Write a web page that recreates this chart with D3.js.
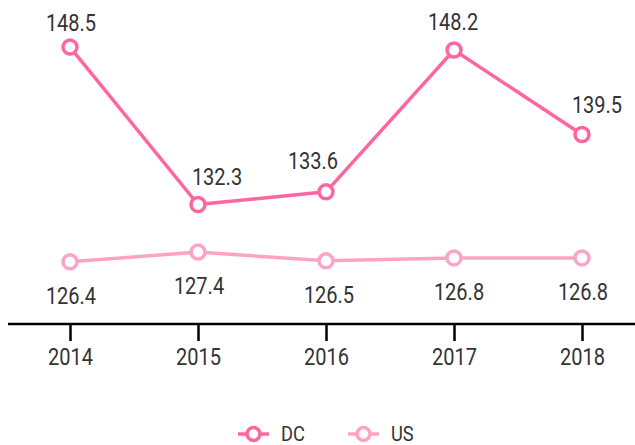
<!DOCTYPE html>
<html lang="en">
<head>
    <meta charset="UTF-8">
    <script src="https://cdnjs.cloudflare.com/ajax/libs/d3/7.8.5/d3.min.js"></script>
    <style>
        body { margin: 0; background: #fff; }
        text { font-family: Roboto, sans-serif; fill: #333; }
    </style>
</head>
<body>
<svg id="chart" width="635" height="445"></svg>
<script>
    const years = ['2014', '2015', '2016', '2017', '2018'];
    const dcValues = [148.5, 132.3, 133.6, 148.2, 139.5];
    const usValues = [126.4, 127.4, 126.5, 126.8, 126.8];
    const seriesNames = ['DC', 'US'];
    const colors = ['#ff66a1', '#ffa3c6'];

    // label nudges (layout only) so the DC labels clear the line
    const dcLabelShift = [[1, -16], [19, -19], [-13, -23], [-1, -20], [15, -22]];
    const usLabelShift = [[1, 42], [1, 42], [3, 42], [5, 42], [1, 42]];

    // narrow look for the condensed face of the original
    const squeeze = 0.87;

    const svg = d3.select('#chart');

    const xScale = d3.scalePoint().domain(years).range([70, 582]);
    const yScale = d3.scaleLinear().domain([120, 150]).range([324, 32.5]);

    // x axis
    const xAxis = d3.axisBottom(xScale).tickSize(17).tickSizeOuter(0).tickFormat('');
    const axisG = svg.append('g')
        .attr('transform', 'translate(0,324)')
        .call(xAxis);
    axisG.select('.domain').remove();
    axisG.append('line')
        .attr('x1', 8).attr('x2', 635)
        .attr('stroke', '#000').attr('stroke-width', 2.5);
    axisG.selectAll('.tick line').attr('stroke', '#000').attr('stroke-width', 2.5);
    axisG.selectAll('.tick')
        .append('text')
        .attr('transform', `translate(0,41) scale(${squeeze},1)`)
        .attr('text-anchor', 'middle')
        .style('font-family', 'Roboto, sans-serif')
        .style('font-size', '23px')
        .style('fill', '#333')
        .text(d => d);

    const series = [
        { name: 'DC', values: dcValues, color: colors[0], shift: dcLabelShift },
        { name: 'US', values: usValues, color: colors[1], shift: usLabelShift }
    ];

    const line = d3.line()
        .x((d, i) => xScale(years[i]))
        .y(d => yScale(d));

    series.forEach(s => {
        const g = svg.append('g');
        g.append('path')
            .datum(s.values)
            .attr('d', line)
            .attr('fill', 'none')
            .attr('stroke', s.color)
            .attr('stroke-width', 3.5);
        g.selectAll('circle')
            .data(s.values).enter()
            .append('circle')
            .attr('cx', (d, i) => xScale(years[i]))
            .attr('cy', d => yScale(d))
            .attr('r', 7)
            .attr('fill', '#fff')
            .attr('stroke', s.color)
            .attr('stroke-width', 3.5);
        g.selectAll('text')
            .data(s.values).enter()
            .append('text')
            .attr('transform', (d, i) =>
                `translate(${xScale(years[i]) + s.shift[i][0]},${yScale(d) + s.shift[i][1]}) scale(${squeeze},1)`)
            .attr('text-anchor', 'middle')
            .style('font-size', '23px')
            .text(d => d.toFixed(1));
    });

    // legend
    const legend = svg.append('g').attr('transform', 'translate(238,434)');
    series.forEach((s, i) => {
        const lg = legend.append('g').attr('transform', `translate(${i * 110},0)`);
        lg.append('line')
            .attr('x1', 0).attr('x2', 31)
            .attr('stroke', s.color).attr('stroke-width', 3.5);
        lg.append('circle')
            .attr('cx', 15.5).attr('cy', 0).attr('r', 6.5)
            .attr('fill', '#fff')
            .attr('stroke', s.color).attr('stroke-width', 3.5);
        lg.append('text')
            .attr('transform', `translate(43,7) scale(${squeeze},1)`)
            .style('font-size', '21px')
            .text(seriesNames[i]);
    });
</script>
</body>
</html>
